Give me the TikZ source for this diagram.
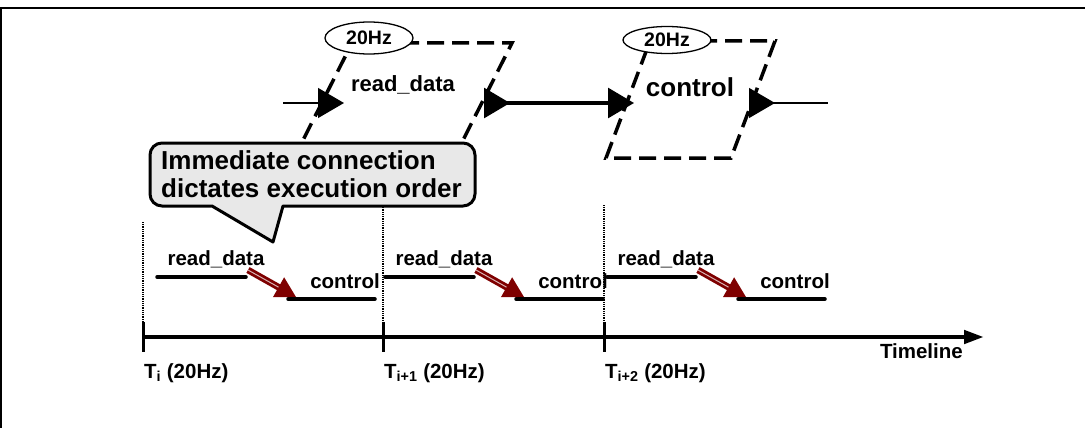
\documentclass[tikz,border=0pt]{standalone}
\usepackage{fontspec}
\setmainfont{Liberation Sans}
\usetikzlibrary{arrows.meta,shapes.geometric}
\definecolor{flowred}{HTML}{7F0000}
\definecolor{notegray}{HTML}{E8E8E8}

\begin{document}
\begin{tikzpicture}[x=1pt, y=-1pt,
            every node/.style = {inner sep=0pt,
                font=\fontsize{20.5}{23}\selectfont\bfseries},
            block/.style = {draw, line width=3.5pt, dash pattern=on 17pt off 8pt},
            rate/.style = {ellipse, draw, fill=white, line width=1.3pt,
                minimum width=88pt, font=\fontsize{19.5}{21}\selectfont\bfseries},
            wire/.style = {line width=1.3pt},
            link/.style = {line width=3pt},
            portin/.tip = {Triangle[length=26pt, width=30pt]},
            portout/.tip = {Triangle[reversed, length=26pt, width=30pt]},
            note/.style = {draw, fill=notegray, line width=3pt, line join=round},
            slot/.style = {line width=3.5pt, line cap=round},
            flow/.style = {draw=flowred, line width=2.8pt, double=white!70!flowred,
                double distance=1pt, -{Triangle[length=20pt, width=22pt]}},
            tick/.style = {line width=3pt},
            period/.style = {line width=1.3pt, dash pattern=on 1pt off 0.8pt},
            axis/.style = {line width=4.5pt, -{Triangle[length=20pt, width=13pt]}}]

    \useasboundingbox (0,0) rectangle (1085,428);
    % frame
    \draw[line width=1.5pt] (1,440) -- (1,8) -- (1095,8);

    % the two blocks
    \draw[block] (352,43) -- (512,43) -- (453,160) -- (293,160) -- cycle;
    \draw[block] (650,41) -- (775,41) -- (731,158) -- (606,158) -- cycle;
    \node[rate, minimum height=32pt] (rate1) at (369,38) {20Hz};
    \node[rate, minimum height=27pt] (rate2) at (667,40) {20Hz};
    \node (read) at (403,85) {\fontsize{22}{24}\selectfont read\_data};
    \node (ctrl) at (690,87) {\fontsize{26}{28}\selectfont control};

    % ports and connections
    \coordinate (src) at (283,103);
    \coordinate (read-in) at (344,103);
    \coordinate (read-out) at (484,103);
    \coordinate (ctrl-in) at (634,103);
    \coordinate (ctrl-out) at (749,103);
    \coordinate (sink) at (828,103);
    \draw[wire, -portin] (src) -- (read-in);
    \draw[link, portout-portin] (read-out) -- (ctrl-in);
    \draw[wire, portout-] (ctrl-out) -- (sink);

    % callout
    \draw[note] (273,242) -- (283,206) [rounded corners=12pt] -- (475,206)
        -- (475,143) -- (150,143) -- (150,206) [sharp corners] -- (212,206) -- cycle;
    \node[align=left, anchor=west, font=\fontsize{26}{28}\selectfont\bfseries] (hint) at (161,174)
        {Immediate connection\\dictates execution order};

    % timeline
    \coordinate (start) at (143,337);
    \coordinate (end) at (984,337);
    \draw[axis] (start) -- (end);
    \node[anchor=base east] (axislabel) at (963,358) {Timeline};

    \foreach \t/\r/\s/\top [count=\k] in {143/157/i/222, 383/385/i+1/205, 604/607/i+2/205} {
        \draw[period] (\t,\top) -- (\t,345);
        \draw[tick] (\t,322) -- (\t,352);
        \node[anchor=base west] (tick\k) at (\t+1,378) {T\textsubscript{\s} (20Hz)};
        % read_data then control
        \draw[slot] (\r,277) -- (\r+89,277);
        \node[anchor=base] (readslot\k) at (\r+59,265) {read\_data};
        \draw[slot] (\r+131,299) -- (\r+218,299);
        \node[anchor=base] (ctrlslot\k) at (\r+188,288) {control};
        \coordinate (done\k) at (\r+91,270);
        \coordinate (next\k) at (\r+139,297);
        \draw[flow] (done\k) -- (next\k);
    }
\end{tikzpicture}
\end{document}
